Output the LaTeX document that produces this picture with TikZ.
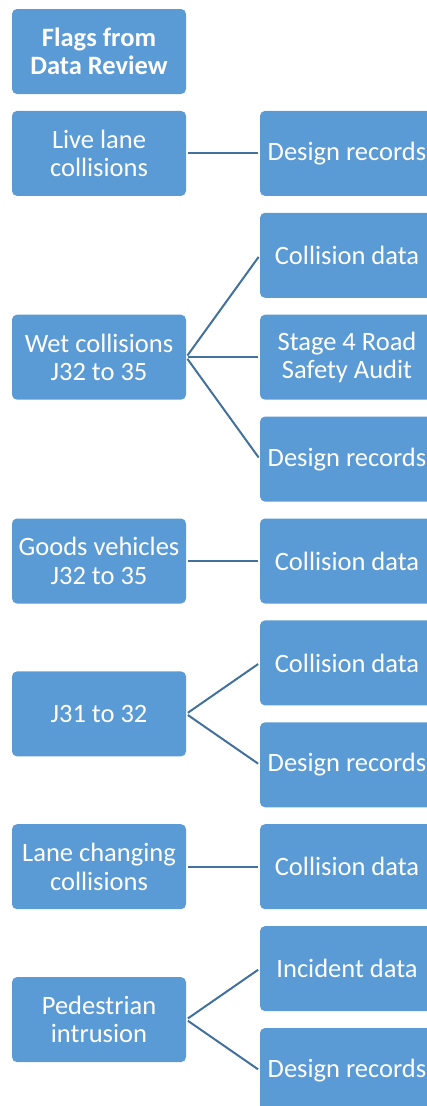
\documentclass[tikz,border=0pt]{standalone}
\usepackage{fontspec}
\setmainfont{Carlito}
\usepackage{tikz}
\definecolor{boxblue}{HTML}{5B9BD5}
\definecolor{linkblue}{HTML}{41719C}
\tikzstyle{flag}=[rectangle, rounded corners=5pt, fill=boxblue, minimum width=174pt, minimum height=85pt, inner sep=0pt, text=white, align=center, font=\fontsize{26.5}{28.5}\selectfont, anchor=center]
\tikzstyle{source}=[flag]
\tikzstyle{link}=[draw=linkblue, line width=2pt, shorten <=2pt, shorten >=2pt]
\begin{document}
\begin{tikzpicture}[x=1pt,y=-1pt]
	\useasboundingbox (0,0) rectangle (426,1106);

	% left column
	\node[flag, font=\fontsize{26.5}{28.5}\selectfont\bfseries](flags) at (99,51.5){Flags from\\Data Review};
	\node[flag](live) at (99,153.4){Live lane\\collisions};
	\node[flag](wet) at (99,357.2){Wet collisions\\J32 to 35};
	\node[flag](goods) at (99,561){Goods vehicles\\J32 to 35};
	\node[flag](jthirtyone) at (99,713.9){J31 to 32};
	\node[flag](lane) at (99,866.7){Lane changing\\collisions};
	\node[flag](ped) at (99,1019.6){Pedestrian\\intrusion};

	% right column
	\node[source](liveDesign) at (347,153.4){Design records};
	\node[source](wetCollision) at (347,255.3){Collision data};
	\node[source](wetAudit) at (347,357.2){Stage 4 Road\\Safety Audit};
	\node[source](wetDesign) at (347,459.1){Design records};
	\node[source](goodsCollision) at (347,561){Collision data};
	\node[source](jCollision) at (347,662.9){Collision data};
	\node[source](jDesign) at (347,764.8){Design records};
	\node[source](laneCollision) at (347,866.7){Collision data};
	\node[source](pedIncident) at (347,968.6){Incident data};
	\node[source](pedDesign) at (347,1070.5){Design records};

	% links
	\draw[link] (live.east) -- (liveDesign.west);
	\foreach \t in {wetCollision,wetAudit,wetDesign}
		\draw[link] (wet.east) -- (\t.west);
	\draw[link] (goods.east) -- (goodsCollision.west);
	\foreach \t in {jCollision,jDesign}
		\draw[link] (jthirtyone.east) -- (\t.west);
	\draw[link] (lane.east) -- (laneCollision.west);
	\foreach \t in {pedIncident,pedDesign}
		\draw[link] (ped.east) -- (\t.west);

\end{tikzpicture}
\end{document}
